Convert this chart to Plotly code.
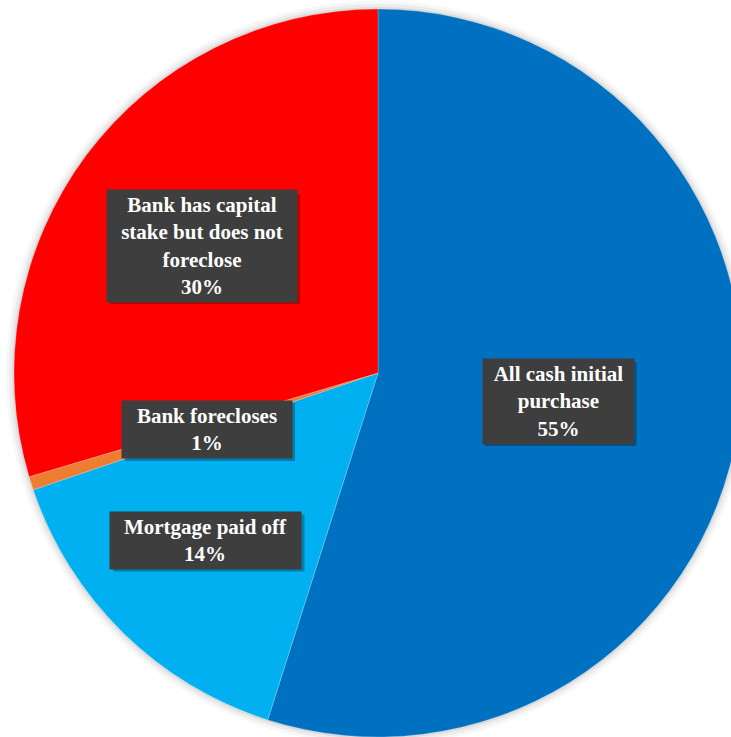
import plotly.graph_objects as go

# ---- data ----
categories = ["All cash initial purchase", "Mortgage paid off", "Bank forecloses",
              "Bank has capital stake but does not foreclose"]
values = [54.9, 14.9, 0.6, 29.6]
pct_labels = ["55%", "14%", "1%", "30%"]
label_lines = [["All cash initial", "purchase"],
               ["Mortgage paid off"],
               ["Bank forecloses"],
               ["Bank has capital", "stake but does not", "foreclose"]]
colors = ["#0070C0", "#00B0F0", "#ED7D31", "#FF0000"]

# ---- layout geometry (pixels) ----
W, H = 770, 770
cx, cy, r = 378, 373, 364

def dom(rad):
    return dict(x=[max(0, (cx - rad) / W), min(1, (cx + rad) / W)],
                y=[max(0, 1 - (cy + rad) / H), min(1, 1 - (cy - rad) / H)])

fig = go.Figure()

# soft glow/shadow behind the pie
for extra, alpha in [(8, 0.03), (5, 0.045), (2, 0.07)]:
    fig.add_trace(go.Pie(values=[1], labels=["shadow"], domain=dom(r + extra),
                         marker=dict(colors=[f"rgba(0,0,0,{alpha})"], line=dict(width=0)),
                         textinfo="none", hoverinfo="skip", showlegend=False, sort=False))

fig.add_trace(go.Pie(
    labels=categories, values=values, domain=dom(r),
    marker=dict(colors=colors, line=dict(color="rgba(255,255,255,0.35)", width=0.6)),
    sort=False, direction="clockwise", rotation=0,
    textinfo="none", hoverinfo="label+percent", showlegend=False,
))

# label box centres / sizes in pixels (x, y, w, h)
boxes = [(558, 401, 151, 84), (206, 540, 191, 57), (207, 429, 170, 58), (202, 246, 190, 110)]
FS = 21

for (bx, by, bw, bh), lines, pct in zip(boxes, label_lines, pct_labels):
    text = "<br>".join(lines + [pct])
    # drop shadow of the label box
    fig.add_shape(type="rect", xref="paper", yref="paper", layer="above",
                  x0=(bx - bw / 2 + 3) / W, x1=(bx + bw / 2 + 3) / W,
                  y0=1 - (by + bh / 2 + 3) / H, y1=1 - (by - bh / 2 + 3) / H,
                  fillcolor="rgba(0,0,0,0.28)", line=dict(width=0))
    fig.add_annotation(x=bx / W, y=1 - by / H, text=text, bgcolor="#3e3e3e",
                       xref="paper", yref="paper", xanchor="center", yanchor="middle",
                       showarrow=False, width=bw - 6, borderpad=3, align="center",
                       font=dict(family="Liberation Serif", size=FS, color="white",
                                 weight="bold"))

fig.update_layout(width=W, height=H, margin=dict(l=0, r=0, t=0, b=0),
                  paper_bgcolor="white", plot_bgcolor="white", showlegend=False)

fig.write_html("out.html", config={"displayModeBar": False},
               post_script="document.body.style.margin='0';document.body.style.overflow='hidden';"
                           "document.documentElement.style.overflow='hidden';")
